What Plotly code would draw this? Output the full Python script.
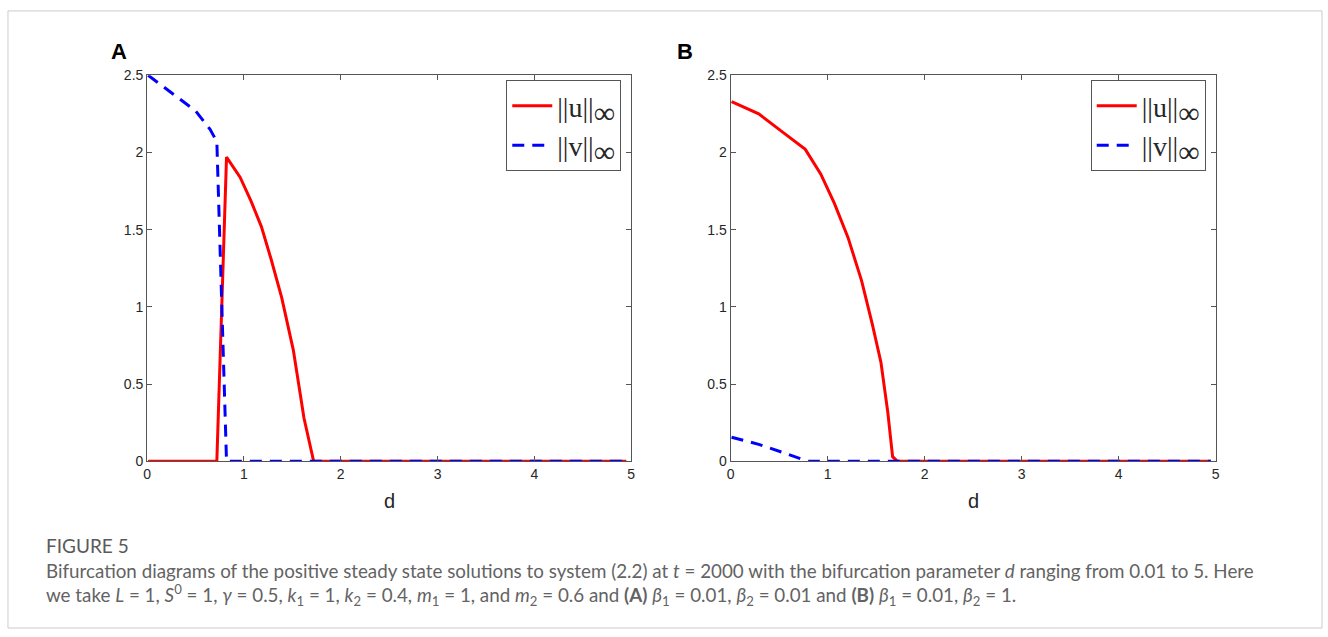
import plotly.graph_objects as go

# ---- data ----
dA_u = [0.01, 0.72, 0.82, 0.96, 1.07, 1.18, 1.28, 1.39, 1.51, 1.62, 1.72, 4.95]
uA = [0, 0, 1.97, 1.84, 1.69, 1.52, 1.31, 1.06, 0.72, 0.28, 0, 0]
dA_v = [0.01, 0.26, 0.50, 0.65, 0.72, 0.82, 4.95]
vA = [2.5, 2.38, 2.27, 2.15, 2.07, 0, 0]

dB_u = [0.01, 0.29, 0.54, 0.77, 0.93, 1.07, 1.21, 1.35, 1.46, 1.55, 1.62, 1.67, 1.72, 4.95]
uB = [2.33, 2.25, 2.13, 2.02, 1.86, 1.67, 1.45, 1.17, 0.89, 0.64, 0.32, 0.03, 0, 0]
dB_v = [0.01, 0.29, 0.54, 0.75, 0.80, 4.95]
vB = [0.156, 0.11, 0.057, 0.008, 0, 0]

x_ticks = [0, 1, 2, 3, 4, 5]
y_ticks = [0, 0.5, 1, 1.5, 2, 2.5]
y_tick_labels = ["0", "0.5", "1", "1.5", "2", "2.5"]

W, H = 1328, 637
def px(x): return x / W
def py(y): return 1 - y / H

fig = go.Figure()
INF = "<sub><span style='font-size:30px'>∞</span></sub>"
U_NAME = "||u||" + INF
V_NAME = "||v||" + INF
RED = "#ff0000"
BLUE = "#0000ff"
DASH = "12px,8px"

fig.add_trace(go.Scatter(x=dA_u, y=uA, mode="lines", name=U_NAME,
                         line=dict(color=RED, width=3), xaxis="x", yaxis="y", legend="legend"))
fig.add_trace(go.Scatter(x=dA_v, y=vA, mode="lines", name=V_NAME,
                         line=dict(color=BLUE, width=3, dash=DASH), xaxis="x", yaxis="y", legend="legend"))
fig.add_trace(go.Scatter(x=dB_u, y=uB, mode="lines", name=U_NAME,
                         line=dict(color=RED, width=3), xaxis="x2", yaxis="y2", legend="legend2"))
fig.add_trace(go.Scatter(x=dB_v, y=vB, mode="lines", name=V_NAME,
                         line=dict(color=BLUE, width=3, dash=DASH), xaxis="x2", yaxis="y2", legend="legend2"))

axis_common = dict(showline=True, linecolor="#555555", linewidth=1, mirror="ticks",
                   ticks="inside", ticklen=5, tickcolor="#555555", showgrid=False, zeroline=False,
                   tickfont=dict(family="Liberation Sans, Arial, sans-serif", size=14, color="#262626"))

ydom = [py(465), py(69)]
leg_font = dict(family="Liberation Serif, DejaVu Serif, serif", size=28, color="#262626")
fig.update_layout(
    width=W, height=H,
    margin=dict(l=0, r=0, t=0, b=0),
    paper_bgcolor="white", plot_bgcolor="white",
    xaxis=dict(domain=[px(144), px(631)], range=[0, 5], tickvals=x_ticks, anchor="y", **axis_common),
    yaxis=dict(domain=ydom, range=[0, 2.5], tickvals=y_ticks, ticktext=y_tick_labels, anchor="x", **axis_common),
    xaxis2=dict(domain=[px(731), px(1219)], range=[0, 5], tickvals=x_ticks, anchor="y2", **axis_common),
    yaxis2=dict(domain=ydom, range=[0, 2.5], tickvals=y_ticks, ticktext=y_tick_labels, anchor="x2", **axis_common),
    legend=dict(x=px(621), y=py(74), xanchor="right", yanchor="top",
                bordercolor="#555555", borderwidth=1, bgcolor="white", font=leg_font,
                tracegroupgap=0, itemwidth=40),
    legend2=dict(x=px(1209), y=py(74), xanchor="right", yanchor="top",
                 bordercolor="#555555", borderwidth=1, bgcolor="white", font=leg_font,
                 tracegroupgap=0, itemwidth=40),
    showlegend=True,
)

ann_font = dict(family="Liberation Sans, Arial, sans-serif", color="#000000")
annotations = [
    dict(text="<b>A</b>", x=px(116), y=py(45), font=dict(size=22, **ann_font)),
    dict(text="<b>B</b>", x=px(685), y=py(45), font=dict(size=22, **ann_font)),
    dict(text="d", x=px(388), y=py(506), font=dict(size=20, family="Liberation Sans, Arial, sans-serif", color="#262626")),
    dict(text="d", x=px(975), y=py(506), font=dict(size=20, family="Liberation Sans, Arial, sans-serif", color="#262626")),
]
cap_font = dict(family="Lato, Open Sans, sans-serif", size=18.8, color="#636363")
annotations.append(dict(text="FIGURE 5", x=px(40), y=py(551), xanchor="left",
                        font=dict(family="Lato, sans-serif", size=19, color="#5a5a5a")))
annotations.append(dict(
    text="Bifurcation diagrams of the positive steady state solutions to system (2.2) at <i>t</i> = 2000 with the bifurcation parameter <i>d</i> ranging from 0.01 to 5. Here",
    x=px(40), y=py(577), xanchor="left", font=cap_font))
annotations.append(dict(
    text="we take <i>L</i> = 1, <i>S</i><sup>0</sup> = 1, <i>γ</i> = 0.5, <i>k</i><sub>1</sub> = 1, <i>k</i><sub>2</sub> = 0.4, "
         "<i>m</i><sub>1</sub> = 1, and <i>m</i><sub>2</sub> = 0.6 and <b>(A)</b> <i>β</i><sub>1</sub> = 0.01, "
         "<i>β</i><sub>2</sub> = 0.01 and <b>(B)</b> <i>β</i><sub>1</sub> = 0.01, <i>β</i><sub>2</sub> = 1.",
    x=px(40), y=py(602), xanchor="left", font=cap_font))
for a in annotations:
    a.setdefault("xref", "paper"); a.setdefault("yref", "paper")
    a.setdefault("showarrow", False); a.setdefault("yanchor", "middle")
    a.setdefault("xanchor", "center")
fig.update_layout(annotations=annotations)

fig.add_shape(type="rect", xref="paper", yref="paper", x0=px(4), x1=px(1326), y0=py(636), y1=py(3),
              line=dict(color="#cccccc", width=1), fillcolor="rgba(0,0,0,0)", layer="below")

fig.write_html("out.html", config={"displayModeBar": False},
               post_script="document.body.style.margin='0';document.body.style.overflow='hidden';")
